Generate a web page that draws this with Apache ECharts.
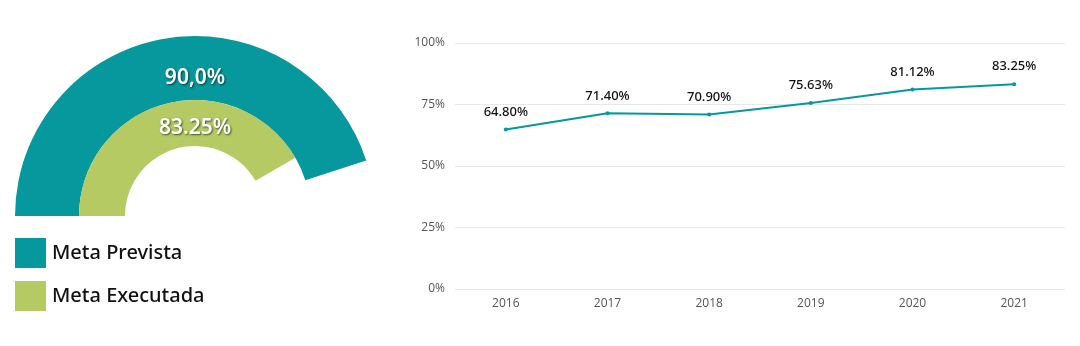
<!DOCTYPE html>
<html><head><meta charset="utf-8">
<script src="https://cdn.jsdelivr.net/npm/echarts@6/dist/echarts.min.js"></script>
<style>html,body{margin:0;padding:0;background:#fff}#c{width:1080px;height:346px}</style>
</head><body><div id="c"></div>
<script>
const gaugeNames = ['Meta Prevista', 'Meta Executada'];
const gaugeValues = [90.0, 83.25];
const gaugeLabels = ['90,0%', '83.25%'];
const years = ['2016', '2017', '2018', '2019', '2020', '2021'];
const execValues = [64.80, 71.40, 70.90, 75.63, 81.12, 83.25];
const yTicks = [0, 25, 50, 75, 100];

const TEAL = '#06989c', GREEN = '#b5ca62';
const font = '"Noto Sans", sans-serif';

function halfPie(name, value, color, radius) {
  return {
    type: 'pie', center: [195, 216], radius: radius, startAngle: 180, clockwise: true,
    silent: true, label: { show: false }, labelLine: { show: false }, animation: false,
    data: [
      { name: name, value: value, itemStyle: { color: color } },
      { name: '_rest', value: 200 - value, itemStyle: { color: 'rgba(0,0,0,0)' } }
    ]
  };
}

function gaugeText(text, y) {
  return { type: 'text', x: 195, y: y, z: 100, zlevel: 1,
    style: { text: text, align: 'center', verticalAlign: 'middle', fill: '#fff', fontSize: 21, fontWeight: 600, fontFamily: font,
      textShadowColor: 'rgba(0,0,0,0.6)', textShadowBlur: 2, textShadowOffsetX: 1, textShadowOffsetY: 1 } };
}

const chart = echarts.init(document.getElementById('c'), null, { renderer: 'canvas' });
chart.setOption({
  animation: false,
  legend: {
    data: gaugeNames, orient: 'vertical', left: 15, top: 238, padding: 0, itemWidth: 31, itemHeight: 30, itemGap: 13,
    icon: 'rect', selectedMode: false,
    textStyle: { fontSize: 20, fontWeight: 500, color: '#111', fontFamily: font, padding: [9, 0, 0, 1] }
  },
  graphic: [ gaugeText(gaugeLabels[0], 78), gaugeText(gaugeLabels[1], 128) ],
  grid: { left: 455, right: 15, top: 43, bottom: 57 },
  xAxis: {
    type: 'category', data: years, boundaryGap: true,
    axisLine: { show: false }, axisTick: { show: false },
    axisLabel: { color: '#555', fontSize: 12, fontFamily: '"Open Sans", sans-serif', margin: 9 }
  },
  yAxis: {
    type: 'value', min: yTicks[0], max: yTicks[yTicks.length - 1], interval: 25,
    axisLabel: { formatter: '{value}%', color: '#555', fontSize: 12, fontFamily: '"Open Sans", sans-serif', margin: 10 },
    splitLine: { lineStyle: { color: '#e8e8e8', width: 1 } },
    axisLine: { show: false }, axisTick: { show: false }
  },
  series: [
    halfPie(gaugeNames[0], gaugeValues[0], TEAL, [116, 180]),
    halfPie(gaugeNames[1], gaugeValues[1], GREEN, [70, 116]),
    {
      type: 'line', data: execValues, symbol: 'circle', symbolSize: 4,
      lineStyle: { color: TEAL, width: 2 }, itemStyle: { color: TEAL },
      label: { show: true, position: 'top', distance: 9, color: '#111', fontSize: 13, fontWeight: 500, fontFamily: font,
        formatter: p => p.value.toFixed(2) + '%' }
    }
  ]
});
</script></body></html>
